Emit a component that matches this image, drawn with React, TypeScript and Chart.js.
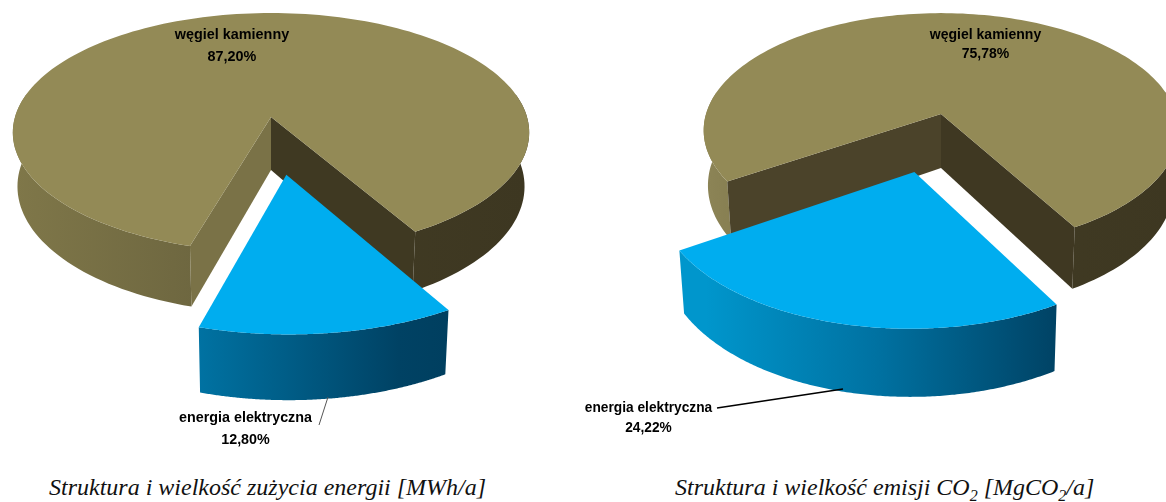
import React, { useEffect, useRef } from "react";
import { Chart, registerables } from "chart.js";

Chart.register(...registerables);

const categories = ["energia elektryczna", "węgiel kamienny"];
const energyShares = [12.8, 87.2];
const emissionShares = [24.22, 75.78];
const energyTitle = "Struktura i wielkość zużycia energii [MWh/a]";

const TOP_COLORS = ["#00adef", "#938a56"];
const BLUE_RIM: [number, string][] = [[0, "#0096cc"], [0.36, "#0072a2"], [0.75, "#004264"], [1, "#003a58"]];
const BROWN_RIM_LEFT: [number, string][] = [[0, "#7f7749"], [0.35, "#6e6740"], [0.7, "#403a23"], [1, "#3d3721"]];
const BROWN_RIM_RIGHT: [number, string][] = [[0, "#8c8456"], [0.08, "#857d50"], [0.7, "#403a23"], [1, "#3d3721"]];

type Geo = {
  cx: number; cy: number; rx: number; ry: number; k: number; depth: number; explode: number; shiftU: number; blueScale: number;
  wallA: string; wallB: string; brownRim: [number, string][];
  labels: { x: number; y1: number; y2: number; sx: number }[];
  leader: { pts: number[]; color: string; width: number };
};

function pie3d(geo: Geo) {
  return {
    id: "pie3d",
    beforeDatasetsDraw(chart: any) {
      const ctx: CanvasRenderingContext2D = chart.ctx;
      const arcs = chart.getDatasetMeta(0).data;
      const values: number[] = chart.data.datasets[0].data;
      const names: string[] = chart.data.labels;
      const { cx, cy, rx, ry, k, depth } = geo;

      const project = (u: number, v: number, z = 0) => {
        const s = 1 / (1 - k * v);
        return [cx + rx * u * s * (1 - 0.018 * z), cy + ry * v * s + z * depth * s];
      };
      const rimGrad = (stops: [number, string][]) => {
        const g = ctx.createLinearGradient(cx - rx, 0, cx + rx, 0);
        stops.forEach(([o, c]) => g.addColorStop(o, c));
        return g;
      };
      const poly = (pts: number[][], fill: any) => {
        ctx.beginPath();
        pts.forEach((p, i) => (i ? ctx.lineTo(p[0], p[1]) : ctx.moveTo(p[0], p[1])));
        ctx.closePath();
        ctx.fillStyle = fill;
        ctx.fill();
      };

      const drawSlice = (arc: any, ox: number, oy: number, r: number, topColor: string, rim: any, walls: string[] | null) => {
        const a0: number = arc.startAngle;
        const a1: number = arc.endAngle;
        const n = 180;
        const samples: number[] = [];
        for (let i = 0; i <= n; i++) samples.push(a0 + ((a1 - a0) * i) / n);
        const at = (a: number) => [ox + r * Math.cos(a), oy + r * Math.sin(a)];

        // outer rim: only the part turned towards the viewer
        let run: number[] = [];
        const flush = () => {
          if (run.length > 1) {
            const up = run.map((a) => project(at(a)[0], at(a)[1], 0));
            const down = run.map((a) => project(at(a)[0], at(a)[1], 1)).reverse();
            poly([...up, ...down], rim);
          }
          run = [];
        };
        samples.forEach((a) => {
          if (Math.sin(a) > -0.2) run.push(a);
          else flush();
        });
        flush();

        if (walls) {
          const c0 = at(a0);
          const c1 = at(a1);
          poly([project(ox, oy, 0), project(c0[0], c0[1], 0), project(c0[0], c0[1], 1), project(ox, oy, 1)], walls[0]);
          poly([project(ox, oy, 0), project(c1[0], c1[1], 0), project(c1[0], c1[1], 1), project(ox, oy, 1)], walls[1]);
        }

        const top = samples.map((a) => project(at(a)[0], at(a)[1], 0));
        poly([project(ox, oy, 0), ...top], topColor);
      };

      // brown body first, exploded blue slice in front of it
      drawSlice(arcs[1], 0, 0, 1, TOP_COLORS[1], rimGrad(geo.brownRim), [geo.wallA, geo.wallB]);
      const mid = (arcs[0].startAngle + arcs[0].endAngle) / 2;
      drawSlice(
        arcs[0],
        geo.explode * Math.cos(mid) + geo.shiftU,
        geo.explode * Math.sin(mid),
        geo.blueScale,
        TOP_COLORS[0],
        rimGrad(BLUE_RIM),
        null
      );

      // leader line
      const l = geo.leader.pts;
      ctx.beginPath();
      ctx.moveTo(l[0], l[1]);
      ctx.lineTo(l[2], l[3]);
      ctx.strokeStyle = geo.leader.color;
      ctx.lineWidth = geo.leader.width;
      ctx.stroke();

      // data labels
      ctx.fillStyle = "#000";
      ctx.textAlign = "center";
      ctx.textBaseline = "middle";
      ctx.font = 'bold 15px "Liberation Sans"';
      [1, 0].forEach((i) => {
        const p = geo.labels[i];
        ctx.save();
        ctx.translate(p.x, 0);
        ctx.scale(p.sx, 1);
        ctx.fillText(names[i], 0, p.y1);
        ctx.fillText(values[i].toFixed(2).replace(".", ",") + "%", 0, p.y2);
        ctx.restore();
      });
      return false;
    },
  };
}

const energyGeo: Geo = {
  cx: 271, cy: 117, rx: 256, ry: 117.5, k: 0.13, depth: 53, explode: 0.465, shiftU: 0, blueScale: 1.03,
  wallA: "#7a7247", wallB: "#3f3922", brownRim: BROWN_RIM_LEFT,
  labels: [
    { x: 245.5, y1: 418, y2: 440, sx: 0.955 },
    { x: 232, y1: 35, y2: 57, sx: 0.96 },
  ],
  leader: { pts: [328, 397, 319, 425], color: "#555", width: 1 },
};

const emissionGeo: Geo = {
  cx: 941 - 575, cy: 114, rx: 235, ry: 115, k: 0.14, depth: 54, explode: 0.484, shiftU: 0.008, blueScale: 1.01,
  wallA: "#4b432a", wallB: "#3f3822", brownRim: BROWN_RIM_RIGHT,
  labels: [
    { x: 648.5 - 575, y1: 408, y2: 428, sx: 0.915 },
    { x: 985.5 - 575, y1: 35, y2: 54, sx: 0.935 },
  ],
  leader: { pts: [717 - 575, 408, 843 - 575, 389], color: "#000", width: 1.6 },
};

function Pie({ values, geo, left, width }: { values: number[]; geo: Geo; left: number; width: number }) {
  const ref = useRef<HTMLCanvasElement>(null);
  useEffect(() => {
    const chart = new Chart(ref.current!, {
      type: "pie",
      data: {
        labels: categories,
        datasets: [{ data: values, backgroundColor: TOP_COLORS, borderWidth: 0 }],
      },
      options: {
        responsive: false,
        animation: false,
        rotation: 150,
        plugins: { legend: { display: false }, tooltip: { enabled: false }, title: { display: false } },
      },
      plugins: [pie3d(geo)],
    } as any);
    return () => chart.destroy();
  }, []);
  return (
    <canvas
      ref={ref}
      width={width}
      height={470}
      style={{ position: "absolute", left, top: 0, width, height: 470 }}
    />
  );
}

const titleStyle: React.CSSProperties = {
  position: "absolute",
  top: 472,
  whiteSpace: "nowrap",
  fontFamily: '"Liberation Serif", serif',
  fontStyle: "italic",
  fontSize: 24,
  lineHeight: "30px",
  color: "#111",
};

export default function App() {
  return (
    <div style={{ position: "fixed", left: 0, top: 0, width: 1166, height: 502, background: "#fff", overflow: "hidden" }}>
      <Pie values={energyShares} geo={energyGeo} left={0} width={575} />
      <Pie values={emissionShares} geo={emissionGeo} left={575} width={591} />
      <div style={{ ...titleStyle, left: 49 }}>{energyTitle}</div>
      <div style={{ ...titleStyle, left: 675 }}>
        Struktura i wielkość emisji CO<sub style={{ fontSize: 16, lineHeight: 0 }}>2</sub> [MgCO
        <sub style={{ fontSize: 16, lineHeight: 0 }}>2</sub>/a]
      </div>
    </div>
  );
}
